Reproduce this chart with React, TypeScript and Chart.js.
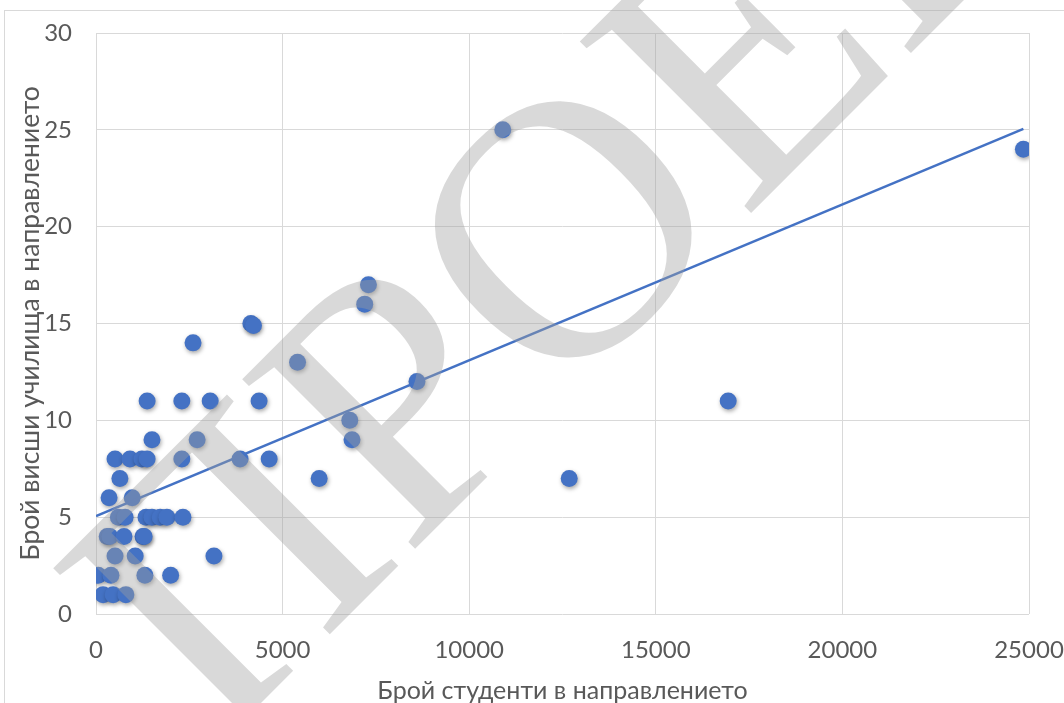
import { useEffect, useRef } from 'react';
import Chart from 'chart.js/auto';

// Students per field (x) and number of higher schools offering it (y)
const students = [
    10900, 24850, 7300, 7200, 4150, 4220, 2600, 5400, 8600,
    1370, 2300, 3060, 4370, 16940,
    6800,
    1500, 2710, 6860,
    510, 910, 1230, 1370, 2300, 3860, 4640,
    640, 5980, 12680,
    350, 970,
    600, 780, 1340, 1500, 1720, 1900, 2330,
    300, 370, 750, 1260, 1290,
    510, 1050, 3160,
    60, 400, 1310, 2000,
    190, 460, 800,
];
const schools = [
    25, 24, 17, 16, 15, 14.9, 14, 13, 12,
    11, 11, 11, 11, 11,
    10,
    9, 9, 9,
    8, 8, 8, 8, 8, 8, 8,
    7, 7, 7,
    6, 6,
    5, 5, 5, 5, 5, 5, 5,
    4, 4, 4, 4, 4,
    3, 3, 3,
    2, 2, 2, 2,
    1, 1, 1,
];

// linear trendline ends
const trendX = [0, 24850];
const trendY = [5.05, 25.05];

const xTicksMax = 25000;
const yTicksMax = 30;

const GREY = '#595959';
const GRID = '#d9d9d9';
const BLUE = '#4472C4';

const shadowPlugin = {
    id: 'pointShadow',
    beforeDatasetDraw(chart: any, args: any) {
        if (args.index !== 1) return;
        const ctx = chart.ctx;
        ctx.save();
        ctx.shadowColor = 'rgba(0,0,0,0.35)';
        ctx.shadowBlur = 4;
        ctx.shadowOffsetX = 1;
        ctx.shadowOffsetY = 2;
    },
    afterDatasetDraw(chart: any, args: any) {
        if (args.index !== 1) return;
        chart.ctx.restore();
    },
};

// "draft" stamp over the whole picture
const watermarkPlugin = {
    id: 'watermark',
    afterDraw(chart: any) {
        const ctx = chart.ctx;
        ctx.save();
        ctx.translate(217, 747);
        ctx.rotate(-45 * Math.PI / 180);
        ctx.font = '370px "Liberation Serif", serif';
        ctx.fillStyle = 'rgba(160,160,160,0.4)';
        ctx.textAlign = 'left';
        ctx.textBaseline = 'alphabetic';
        ctx.fillText('ПРОЕКТ', 0, 0);
        ctx.restore();
    },
};

const App = () => {

    const chartRef = useRef<HTMLCanvasElement>(null);

    useEffect(() => {
        if (!chartRef.current) return;
        const ctx = chartRef.current.getContext('2d');
        if (!ctx) return;

        const tickFont = { family: 'Lato, sans-serif', size: 24 };
        const titleFont = { family: 'Lato, sans-serif', size: 25, lineHeight: 1 };

        const myChart = new Chart(ctx, {
            type: 'scatter',
            data: {
                datasets: [
                    {
                        type: 'line',
                        label: 'Trend',
                        data: trendX.map((x, i) => ({ x, y: trendY[i] })),
                        borderColor: BLUE,
                        borderWidth: 2.5,
                        pointRadius: 0,
                        fill: false,
                        order: 0,
                    },
                    {
                        label: 'Направления',
                        data: students.map((x, i) => ({ x, y: schools[i] })),
                        backgroundColor: BLUE,
                        borderColor: BLUE,
                        borderWidth: 0,
                        pointRadius: 8.5,
                        order: 1,
                    },
                ],
            },
            options: {
                animation: false,
                responsive: true,
                maintainAspectRatio: false,
                layout: {
                    padding: { left: 17, top: 33, right: 35, bottom: 0 },
                },
                plugins: {
                    legend: { display: false },
                    tooltip: { enabled: false },
                },
                scales: {
                    x: {
                        type: 'linear',
                        min: 0,
                        max: xTicksMax,
                        afterFit: (scale: any) => {
                            scale.height = 89;
                            scale.paddingLeft = 0;
                            scale.paddingRight = 0;
                        },
                        ticks: {
                            stepSize: 5000,
                            color: GREY,
                            font: tickFont,
                            padding: 22,
                            callback: (v: any) => String(v),
                        },
                        grid: { color: GRID, drawTicks: false },
                        border: { display: false },
                        title: {
                            display: true,
                            text: 'Брой студенти в направлението',
                            color: GREY,
                            font: titleFont,
                            padding: { top: 0, bottom: 0 },
                        },
                    },
                    y: {
                        min: 0,
                        max: yTicksMax,
                        afterFit: (scale: any) => {
                            scale.width = 79;
                            scale.paddingTop = 0;
                            scale.paddingBottom = 0;
                        },
                        ticks: {
                            stepSize: 5,
                            color: GREY,
                            font: tickFont,
                            padding: 24,
                        },
                        grid: { color: GRID, drawTicks: false },
                        border: { display: false },
                        title: {
                            display: true,
                            text: 'Брой висши училища в направлението',
                            color: GREY,
                            font: { ...titleFont, size: 26.5 },
                            padding: { top: 0, bottom: 0 },
                        },
                    },
                },
            },
            plugins: [shadowPlugin, watermarkPlugin],
        });

        return () => {
            myChart.destroy();
        };
    }, []);

    return (
        <div style={{ position: 'absolute', left: 0, top: 0, width: 1064, height: 703, overflow: 'hidden', background: '#fff' }}>
            {/* outer chart frame */}
            <div style={{ position: 'absolute', left: 4, top: 10, width: 1120, height: 760, border: `1px solid ${GRID}` }} />
            <div style={{ position: 'absolute', left: 0, top: 0, width: 1064, height: 703 }}>
                <canvas ref={chartRef} />
            </div>
        </div>
    );
};

export default App;
